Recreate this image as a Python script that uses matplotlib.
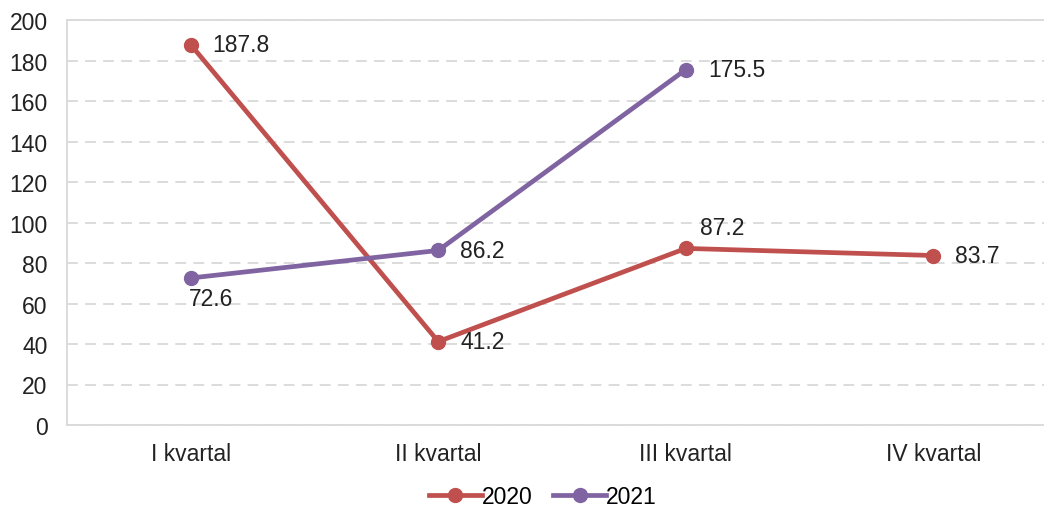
import matplotlib.pyplot as plt

plt.rcParams['font.family'] = ['Liberation Sans', 'DejaVu Sans']

quarters = ['I kvartal', 'II kvartal', 'III kvartal', 'IV kvartal']
values_2020 = [187.8, 41.2, 87.2, 83.7]
values_2021 = [72.6, 86.2, 175.5]

# label placement: (dx px, dy px, ha, va)
pos_2020 = [(22, 0, 'left', 'center'), (22, 0, 'left', 'center'),
            (14, 21, 'left', 'center'), (22, 0, 'left', 'center')]
pos_2021 = [(-2, -21, 'left', 'center'), (22, 0, 'left', 'center'),
            (22, 0, 'left', 'center')]

fig = plt.figure(figsize=(10.44, 5.10), dpi=100)
ax = fig.add_axes([67 / 1044, 1 - 426 / 510, 1 - 67 / 1044, 405 / 510])

red = '#C0504D'
purple = '#8064A2'
fs = 16.5

x20 = range(len(values_2020))
x21 = range(len(values_2021))
ax.plot(x20, values_2020, color=red, lw=3.4, marker='o', ms=10, label='2020', zorder=3)
ax.plot(x21, values_2021, color=purple, lw=3.4, marker='o', ms=10, label='2021', zorder=3)

for x, v, (dx, dy, ha, va) in zip(x20, values_2020, pos_2020):
    ax.annotate(f'{v:.1f}', (x, v), xytext=(dx * 0.72, dy * 0.72), textcoords='offset points',
                ha=ha, va=va, fontsize=fs, color='#222222')
for x, v, (dx, dy, ha, va) in zip(x21, values_2021, pos_2021):
    ax.annotate(f'{v:.1f}', (x, v), xytext=(dx * 0.72, dy * 0.72), textcoords='offset points',
                ha=ha, va=va, fontsize=fs, color='#222222')

ax.set_ylim(0, 200)
ax.set_xlim(-0.5, -0.5 + 977 / 247.5)
ax.set_yticks(range(0, 201, 20))
ax.set_xticks(range(len(quarters)))
ax.set_xticklabels(quarters)
ax.tick_params(axis='both', length=0, labelsize=fs, colors='#222222')
ax.tick_params(axis='x', pad=12)
ax.tick_params(axis='y', pad=14)

ax.grid(axis='y', color='#D9D9D9', lw=1.3, ls=(0, (6, 4)))
ax.set_axisbelow(True)
ax.spines['right'].set_visible(False)
for s in ['left', 'bottom', 'top']:
    ax.spines[s].set_color('#D9D9D9')
    ax.spines[s].set_linewidth(1.3)

fig.legend(loc='center', bbox_to_anchor=(0.52, 1 - 498 / 510), ncol=2, frameon=False,
           fontsize=fs, handlelength=2.3, columnspacing=0.9, handletextpad=0.0)

fig.savefig('out.png', dpi=100)
